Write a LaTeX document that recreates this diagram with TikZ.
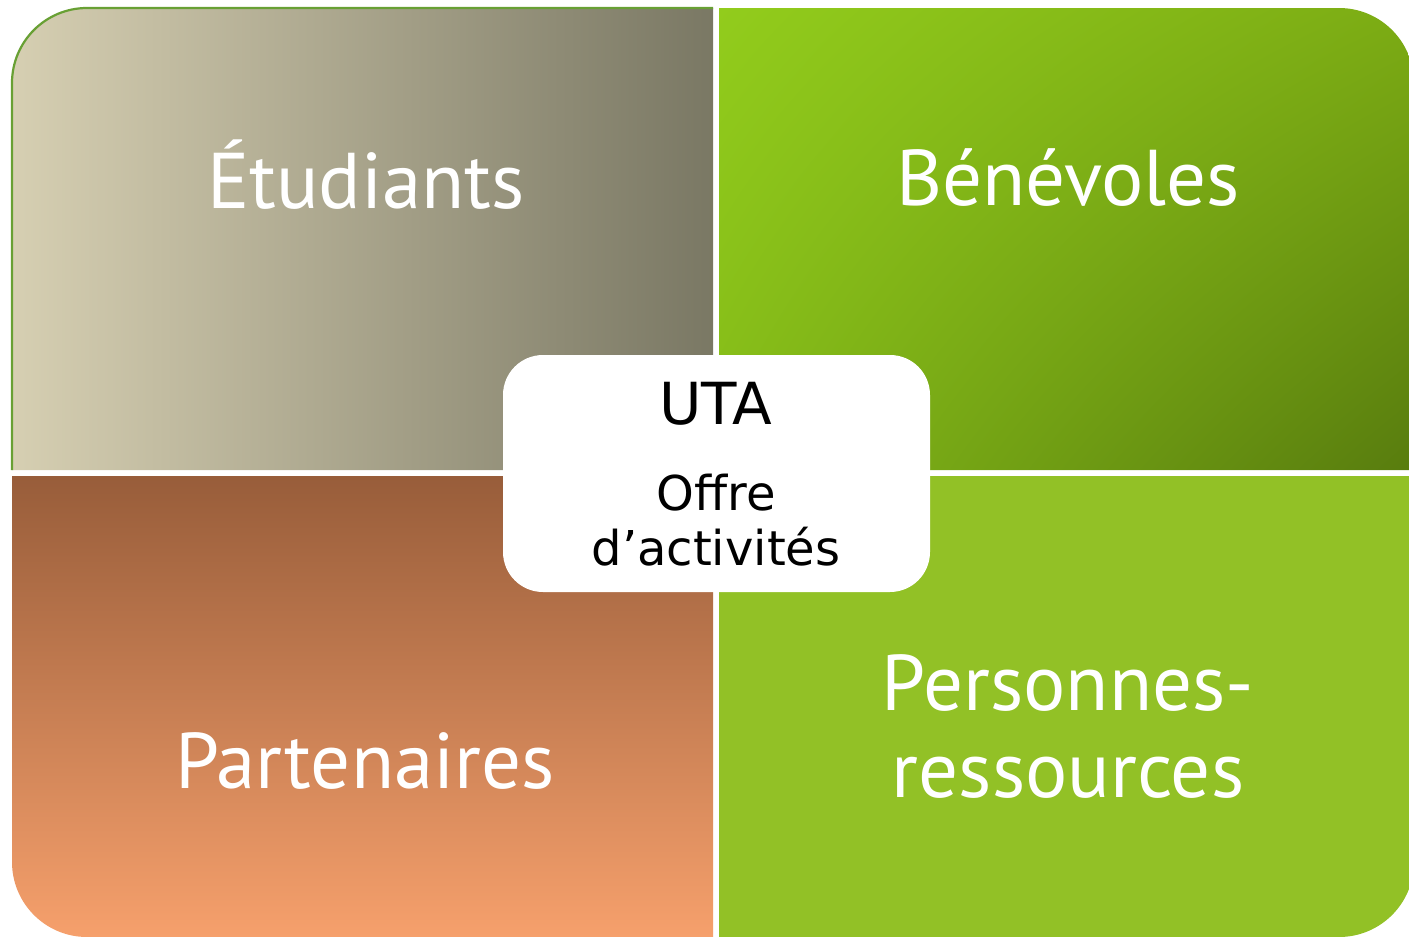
\documentclass[tikz,border=0pt]{standalone}
\usepackage{fontspec}
\setmainfont{PT Sans}
\newfontfamily\centerfont{DejaVu Sans}
\usetikzlibrary{shadings}
\definecolor{tlL}{RGB}{214,207,178}
\definecolor{tlR}{RGB}{122,120,100}
\definecolor{trUL}{RGB}{146,204,28}
\definecolor{trUR}{RGB}{124,172,20}
\definecolor{trLL}{RGB}{132,186,24}
\definecolor{trLR}{RGB}{88,124,14}
\definecolor{blT}{RGB}{152,93,58}
\definecolor{blB}{RGB}{246,160,108}
\definecolor{brF}{RGB}{146,193,38}
\definecolor{edgeG}{RGB}{104,160,52}
\tikzset{
  quadlabel/.style={text=white, font=\fontsize{79}{86}\selectfont, align=center, inner sep=0pt},
  centertext/.style={anchor=base, inner sep=0pt, text=black},
  centerbox/.style={fill=white, rounded corners=40pt},
}
\begin{document}
\begin{tikzpicture}[x=1pt,y=-1pt]
\useasboundingbox (0,0) rectangle (1409,937);
\fill[white] (0,0) rectangle (1409,937);
% top-left
\shade[left color=tlL, right color=tlR]
  (12,470) [rounded corners=75] -- (12,8) [sharp corners] -- (713,8) -- (713,470) -- cycle;
\draw[edgeG, line width=2.2] (12,470) [rounded corners=75] -- (12,8) [sharp corners] -- (713,8);
% top-right
\shade[upper left=trUL, upper right=trUR, lower left=trLL, lower right=trLR]
  (719,8) [rounded corners=75] -- (1414,8) [sharp corners] -- (1414,470) -- (719,470) -- cycle;
% bottom-left
\shade[top color=blT, bottom color=blB]
  (12,476) -- (713,476) -- (713,937) [rounded corners=75] -- (12,937) [sharp corners] -- cycle;
% bottom-right
\fill[brF]
  (719,476) -- (1414,476) [rounded corners=75] -- (1414,937) [sharp corners] -- (719,937) -- cycle;
% center
\fill[centerbox] (503,355) rectangle (930,592);
\node[quadlabel, anchor=base] (etu) at (366,208) {Étudiants};
\node[quadlabel, anchor=base] (ben) at (1068,205) {Bénévoles};
\node[quadlabel, anchor=base] (par) at (365,788) {Partenaires};
\node[quadlabel, anchor=base] (pers) at (1068,710) {Personnes-};
\node[quadlabel, anchor=base] (ress) at (1068,797) {ressources};
\node[centertext, font=\centerfont\fontsize{58}{64}\selectfont] (uta) at (716,424) {UTA};
\node[centertext, font=\centerfont\fontsize{48}{54}\selectfont] (off) at (716,510) {Offre};
\node[centertext, font=\centerfont\fontsize{48}{54}\selectfont] (act) at (716,565) {d’activités};
\end{tikzpicture}
\end{document}
